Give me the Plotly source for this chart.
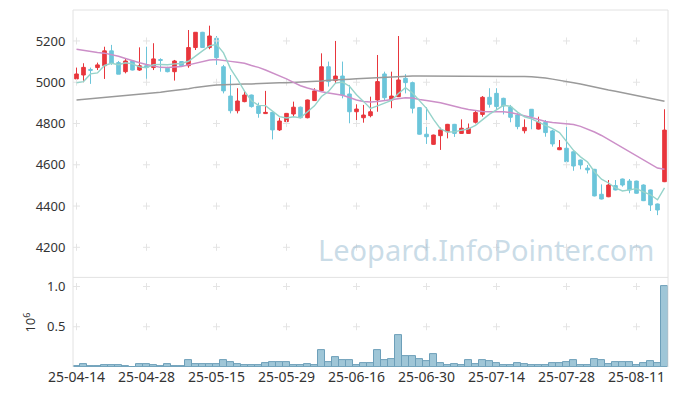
import pandas as pd
import plotly.graph_objects as go

# ---- categories (trading days) ----
holidays = ["2025-05-01", "2025-05-05", "2025-05-06", "2025-06-03", "2025-06-06", "2025-08-15"]
days = [d for d in pd.bdate_range("2025-04-14", "2025-08-18") if d.strftime("%Y-%m-%d") not in holidays]
dates = [d.strftime("%y-%m-%d") for d in days]

# ---- OHLC ----
open_ = [5016, 5035, 5062, 5071, 5080, 5152, 5095, 5051, 5103, 5059,
         5080, 5071, 5110, 5068, 5051, 5100, 5080, 5168, 5242, 5168,
         5213, 5075, 4933, 4862, 4906, 4938, 4885, 4848, 4854, 4769,
         4809, 4846, 4879, 4828, 4911, 4959, 5075, 5008, 5030, 4943,
         4857, 4828, 4838, 4914, 5040, 4914, 4930, 5019, 4998, 4877,
         4748, 4699, 4741, 4760, 4796, 4752, 4752, 4806, 4844, 4927,
         4946, 4922, 4880, 4841, 4765, 4869, 4773, 4806, 4764, 4673,
         4680, 4663, 4623, 4584, 4578, 4457, 4445, 4499, 4531, 4521,
         4521, 4502, 4478, 4410, 4518]
high = [5071, 5092, 5071, 5095, 5172, 5181, 5103, 5116, 5106, 5169,
        5172, 5189, 5116, 5075, 5108, 5102, 5253, 5242, 5244, 5274,
        5224, 5084, 5035, 4971, 4958, 4940, 4901, 4958, 4856, 4828,
        4851, 4906, 4882, 4916, 4971, 5140, 5100, 5200, 5100, 4987,
        4893, 4890, 4930, 5132, 5051, 5051, 5224, 5039, 5003, 4880,
        4879, 4746, 4780, 4798, 4798, 4820, 4800, 4865, 4933, 4971,
        4971, 4925, 4890, 4850, 4820, 4870, 4833, 4817, 4769, 4720,
        4793, 4665, 4625, 4599, 4580, 4505, 4526, 4526, 4533, 4531,
        4523, 4505, 4480, 4412, 4869]
low = [4998, 5000, 4992, 5059, 5016, 5084, 5039, 5043, 5057, 5055,
       4995, 5059, 5051, 5048, 5008, 5078, 5070, 5156, 5166, 5160,
       5084, 4946, 4849, 4849, 4903, 4877, 4828, 4846, 4723, 4764,
       4798, 4833, 4825, 4825, 4909, 4956, 4979, 4995, 4922, 4801,
       4798, 4804, 4830, 4857, 4914, 4874, 4928, 4946, 4849, 4746,
       4701, 4697, 4672, 4728, 4735, 4750, 4750, 4800, 4833, 4877,
       4865, 4844, 4806, 4772, 4752, 4772, 4771, 4736, 4688, 4671,
       4599, 4571, 4578, 4558, 4447, 4432, 4443, 4476, 4494, 4462,
       4460, 4424, 4376, 4356, 4516]
close = [5040, 5072, 5058, 5084, 5152, 5092, 5039, 5103, 5059, 5080,
         5072, 5113, 5106, 5051, 5103, 5080, 5168, 5242, 5168, 5224,
         5119, 4958, 4862, 4909, 4938, 4882, 4849, 4854, 4769, 4812,
         4849, 4879, 4828, 4914, 4958, 5075, 5003, 5030, 4938, 4857,
         4870, 4841, 4857, 5003, 4925, 4933, 5011, 4998, 4874, 4748,
         4736, 4744, 4769, 4796, 4752, 4777, 4777, 4853, 4927, 4893,
         4882, 4885, 4830, 4785, 4781, 4833, 4806, 4756, 4701, 4683,
         4615, 4594, 4599, 4575, 4449, 4434, 4502, 4478, 4502, 4478,
         4462, 4426, 4405, 4381, 4768]
close_before = [5042, 4873, 5059, 4972]   # last closes before the window (for MA5)

# ---- moving averages ----
ma20 = [5160, 5154, 5149, 5144, 5141, 5135, 5126, 5115, 5104, 5094,
        5086, 5079, 5072, 5071, 5073, 5076, 5084, 5093, 5101, 5108,
        5110, 5107, 5101, 5097, 5092, 5081, 5072, 5059, 5045, 5030,
        5016, 4999, 4983, 4972, 4962, 4954, 4948, 4942, 4937, 4926,
        4914, 4907, 4904, 4907, 4912, 4916, 4921, 4925, 4924, 4916,
        4912, 4907, 4901, 4892, 4882, 4875, 4868, 4863, 4858, 4857,
        4857, 4857, 4853, 4846, 4839, 4829, 4819, 4810, 4805, 4802,
        4801, 4795, 4786, 4773, 4759, 4742, 4722, 4703, 4684, 4664,
        4645, 4626, 4606, 4584, 4578]
ma_long = [4914, 4917, 4920, 4923, 4926, 4929, 4931, 4934, 4938, 4940,
           4944, 4948, 4952, 4956, 4960, 4963, 4968, 4975, 4980, 4983,
           4986, 4988, 4990, 4990, 4991, 4992, 4994, 4995, 4996, 4997,
           4998, 4999, 5001, 5002, 5004, 5006, 5009, 5010, 5013, 5015,
           5017, 5019, 5020, 5022, 5023, 5025, 5027, 5029, 5030, 5030,
           5030, 5030, 5030, 5030, 5029, 5028, 5027, 5027, 5027, 5028,
           5029, 5030, 5030, 5029, 5028, 5026, 5024, 5020, 5015, 5010,
           5005, 4997, 4991, 4983, 4976, 4969, 4962, 4956, 4949, 4942,
           4936, 4929, 4921, 4914, 4908]

# ---- volume (shares) ----
volume = [17000, 37000, 17000, 17000, 25000, 25000, 25000, 12000, 3000, 37000,
          37000, 25000, 12000, 37000, 12000, 12000, 87000, 37000, 37000, 37000,
          37000, 87000, 62000, 37000, 25000, 25000, 25000, 50000, 62000, 62000,
          62000, 25000, 25000, 37000, 25000, 210000, 62000, 124000, 91000, 91000,
          21000, 50000, 50000, 215000, 91000, 100000, 397000, 140000, 140000, 103000,
          79000, 161000, 50000, 21000, 37000, 21000, 91000, 37000, 91000, 79000,
          50000, 21000, 21000, 50000, 37000, 21000, 21000, 21000, 50000, 50000,
          62000, 91000, 21000, 21000, 100000, 87000, 37000, 62000, 62000, 62000,
          21000, 50000, 79000, 50000, 1008000]

price_ticks = [4200, 4400, 4600, 4800, 5000, 5200]
vol_ticks = [0.5, 1.0]
x_ticks = dates[::10]

ma5 = pd.Series(close_before + close).rolling(5).mean().iloc[len(close_before):].tolist()
vol_m = [v / 1e6 for v in volume]

UP = "#e8363c"
DOWN = "#6cc5da"
GRID = "#e4e4e4"

fig = go.Figure()

fig.add_trace(go.Bar(x=dates, y=vol_m, xaxis="x", yaxis="y2", width=1.0,
                     marker=dict(color="#9fc6d7", line=dict(color="#6d9fb9", width=1)),
                     showlegend=False, hoverinfo="skip"))

# grid crosses
gx = [x for x in x_ticks for _ in price_ticks]
gy = [y for _ in x_ticks for y in price_ticks]
fig.add_trace(go.Scatter(x=gx, y=gy, mode="markers", xaxis="x", yaxis="y",
                         marker=dict(symbol="cross-thin", size=5, line=dict(color=GRID, width=1)),
                         hoverinfo="skip", showlegend=False))
gx2 = [x for x in x_ticks for _ in vol_ticks]
gy2 = [y for _ in x_ticks for y in vol_ticks]
fig.add_trace(go.Scatter(x=gx2, y=gy2, mode="markers", xaxis="x", yaxis="y2",
                         marker=dict(symbol="cross-thin", size=5, line=dict(color=GRID, width=1)),
                         hoverinfo="skip", showlegend=False))

fig.add_trace(go.Scatter(x=dates, y=ma_long, mode="lines", xaxis="x", yaxis="y",
                         line=dict(color="#9a9a9a", width=1.5), showlegend=False, hoverinfo="skip"))
fig.add_trace(go.Scatter(x=dates, y=ma20, mode="lines", xaxis="x", yaxis="y",
                         line=dict(color="#cc8fc8", width=1.5), showlegend=False, hoverinfo="skip"))

fig.add_trace(go.Candlestick(
    x=dates, open=open_, high=high, low=low, close=close,
    xaxis="x", yaxis="y",
    increasing=dict(line=dict(color=UP, width=1), fillcolor=UP),
    decreasing=dict(line=dict(color=DOWN, width=1), fillcolor=DOWN),
    whiskerwidth=0, showlegend=False, hoverinfo="skip"))

fig.add_trace(go.Scatter(x=dates, y=ma5, mode="lines", xaxis="x", yaxis="y",
                         line=dict(color="#96d3ca", width=1.4), showlegend=False, hoverinfo="skip"))

fig.add_annotation(text="Leopard.InfoPointer.com", xref="paper", yref="paper",
                   x=0.982, y=0.328, xanchor="right", yanchor="middle", showarrow=False,
                   font=dict(family="Noto Sans", size=29, color="rgba(150,185,208,0.5)"))

line_c = "#e2e2e2"
shapes = [
    dict(type="line", xref="paper", yref="paper", x0=0, x1=0, y0=0, y1=1, line=dict(color=line_c, width=1)),
    dict(type="line", xref="paper", yref="paper", x0=1, x1=1, y0=0, y1=1, line=dict(color=line_c, width=1)),
    dict(type="line", xref="paper", yref="paper", x0=0, x1=1, y0=1, y1=1, line=dict(color=line_c, width=1)),
    dict(type="line", xref="paper", yref="paper", x0=0, x1=1, y0=0.251, y1=0.251, line=dict(color=line_c, width=1)),
]

fig.update_layout(
    width=677, height=396,
    margin=dict(l=73, r=9, t=10, b=29),
    paper_bgcolor="white", plot_bgcolor="white",
    font=dict(family="Noto Sans", color="#333333"),
    boxgap=0.26,
    bargap=0,
    shapes=shapes,
    hovermode=False,
    xaxis=dict(type="category", categoryorder="array", categoryarray=dates,
               anchor="y2", range=[-0.5, len(dates) - 0.5], automargin=False,
               tickvals=x_ticks, ticktext=x_ticks, tickangle=0, showgrid=False, zeroline=False,
               showline=False, ticks="", tickfont=dict(size=14, color="#333333"),
               rangeslider=dict(visible=False)),
    yaxis=dict(domain=[0.252, 1], range=[4056, 5350], tickvals=price_ticks, automargin=False,
               showgrid=False, zeroline=False, showline=False, ticks="outside",
               ticklen=4, tickcolor="rgba(0,0,0,0)", tickfont=dict(size=13, color="#333333")),
    yaxis2=dict(domain=[0, 0.249], range=[0, 1.104], tickvals=vol_ticks, ticktext=["0.5", "1.0"],
                automargin=False,
                showgrid=False, zeroline=False, showline=False, ticks="outside",
                ticklen=4, tickcolor="rgba(0,0,0,0)", tickfont=dict(size=13, color="#333333"),
                title=dict(text="10<sup>6</sup>", font=dict(size=13, color="#333333"), standoff=8)),
)

fig.write_html("out.html", config={"displayModeBar": False},
               post_script="document.body.style.margin='0';")
